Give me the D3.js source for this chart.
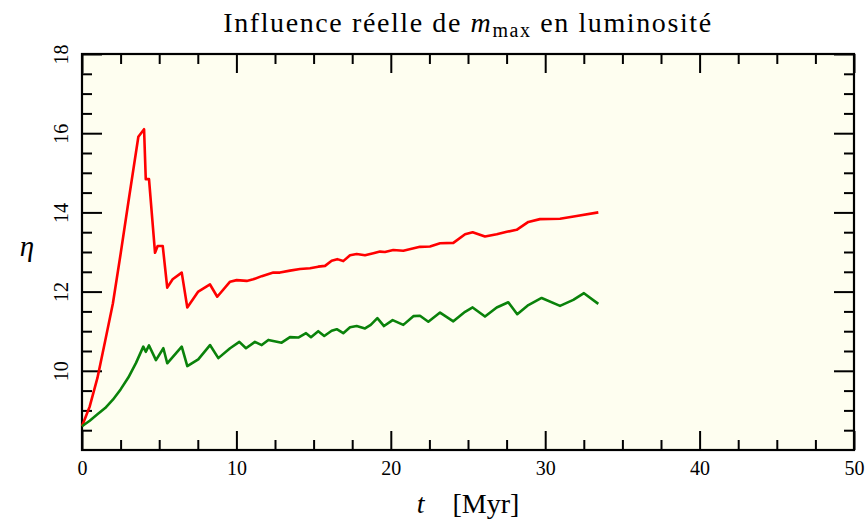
<!DOCTYPE html>
<html>
<head>
<meta charset="utf-8">
<script src="https://cdn.jsdelivr.net/npm/d3@7"></script>
<style>
  body { margin: 0; background: #fff; }
  svg { display: block; font-family: "Liberation Serif", serif; }
  .axis path { display: none; }
  .axis line { stroke: #000; stroke-width: 2; }
  .axis text { font-family: "Liberation Serif", serif; font-size: 20px; fill: #000; }
</style>
</head>
<body>
<div id="chart"></div>
<script>
// time [Myr] and eta for the two runs
const redT = [0, 0.5, 1.0, 1.5, 2.0, 2.5, 3.0, 3.65, 4.02, 4.13, 4.34, 4.73, 4.90, 5.23, 5.52, 5.87, 6.46, 6.82, 7.53, 8.29,
  8.76, 9.59, 10.02, 10.67, 11.09, 11.64, 12.39, 12.82, 13.47, 14.12, 14.77, 15.30, 15.74, 16.17, 16.53, 16.92, 17.36, 17.79, 18.33, 18.87,
  19.30, 19.62, 20.16, 20.81, 21.89, 22.54, 23.19, 24.05, 24.81, 25.30, 26.10, 26.86, 27.51, 28.15, 28.91, 29.66, 30.96, 32.04, 33.44];
const redEta = [8.6, 9.1, 9.82, 10.75, 11.7, 12.95, 14.25, 15.91, 16.10, 14.84, 14.84, 12.98, 13.15, 13.15, 12.10, 12.31, 12.48, 11.60, 12.0, 12.18,
  11.87, 12.25, 12.29, 12.27, 12.31, 12.39, 12.48, 12.48, 12.53, 12.57, 12.59, 12.63, 12.65, 12.78, 12.82, 12.77, 12.92, 12.95, 12.92, 12.97,
  13.01, 13.0, 13.05, 13.03, 13.13, 13.14, 13.22, 13.23, 13.45, 13.50, 13.39, 13.45, 13.51, 13.56, 13.76, 13.83, 13.84, 13.91, 14.0];

const greenT = [0, 0.5, 1.0, 1.5, 2.0, 2.5, 3.0, 3.5, 3.97, 4.13, 4.34, 4.79, 5.27, 5.52, 6.46, 6.82, 7.53, 8.29,
  8.83, 9.59, 10.19, 10.62, 11.2, 11.64, 12.07, 12.93, 13.47, 14.01, 14.51, 14.83, 15.30, 15.69, 16.17, 16.5, 16.92,
  17.36, 17.79, 18.33, 18.70, 19.13, 19.56, 20.12, 20.81, 21.46, 21.89, 22.43, 23.19, 24.05, 24.81, 25.30, 26.10, 26.86,
  27.61, 28.19, 28.91, 29.77, 30.96, 31.82, 32.51, 33.44];
const greenEta = [8.6, 8.74, 8.9, 9.06, 9.27, 9.53, 9.83, 10.2, 10.61, 10.48, 10.64, 10.27, 10.57, 10.19, 10.61, 10.12, 10.29, 10.65,
  10.32, 10.57, 10.73, 10.57, 10.73, 10.65, 10.78, 10.71, 10.85, 10.84, 10.95, 10.85, 11.0, 10.88, 11.01, 11.05, 10.95,
  11.10, 11.13, 11.07, 11.16, 11.33, 11.13, 11.28, 11.16, 11.38, 11.39, 11.24, 11.47, 11.25, 11.49, 11.60, 11.37, 11.60,
  11.73, 11.43, 11.66, 11.84, 11.64, 11.79, 11.96, 11.69];

const xMajor = [0, 10, 20, 30, 40, 50];
const xMinor = d3.range(0, 50.01, 2.5).filter(v => v % 10 !== 0);
const yMajor = [10, 12, 14, 16, 18];
const yMinor = d3.range(8, 18.01, 0.5).filter(v => v % 2 !== 0);

const width = 865, height = 519;
const margin = { top: 54, right: 11, bottom: 69, left: 82 };

const svg = d3.select("#chart").append("svg")
  .attr("width", width)
  .attr("height", height);

const x = d3.scaleLinear().domain([0, 50]).range([margin.left, width - margin.right]);
const y = d3.scaleLinear().domain([8, 18]).range([height - margin.bottom, margin.top]);
const x0 = x.range()[0], x1 = x.range()[1], y0 = y.range()[0], y1 = y.range()[1];

// plot background
svg.append("rect")
  .attr("x", x0).attr("y", y1)
  .attr("width", x1 - x0).attr("height", y0 - y1)
  .attr("fill", "#fefef0");

// ticks, all pointing inward
function addAxis(axis, tx, ty) {
  return svg.append("g")
    .attr("class", "axis")
    .attr("transform", "translate(" + tx + "," + ty + ")")
    .call(axis)
    .attr("font-family", "Liberation Serif, serif");
}
addAxis(d3.axisBottom(x).tickValues(xMinor).tickSize(-10).tickFormat(""), 0, y0);
addAxis(d3.axisTop(x).tickValues(xMinor).tickSize(-10).tickFormat(""), 0, y1);
addAxis(d3.axisTop(x).tickValues(xMajor).tickSize(-19).tickFormat(""), 0, y1);
const xAx = addAxis(d3.axisBottom(x).tickValues(xMajor).tickSize(-19), 0, y0);
xAx.selectAll("text").attr("y", 25).attr("dy", 0);

addAxis(d3.axisLeft(y).tickValues(yMinor).tickSize(-10).tickFormat(""), x0, 0);
addAxis(d3.axisRight(y).tickValues(yMinor).tickSize(-10).tickFormat(""), x1, 0);
addAxis(d3.axisRight(y).tickValues(yMajor).tickSize(-20).tickFormat(""), x1, 0);
const yAx = addAxis(d3.axisLeft(y).tickValues(yMajor).tickSize(-20), x0, 0);
yAx.selectAll("text")
  .attr("transform", "rotate(-90)")
  .attr("x", 0).attr("y", -14).attr("dy", 0)
  .attr("text-anchor", "middle");

// frame
svg.append("rect")
  .attr("x", x0).attr("y", y1)
  .attr("width", x1 - x0).attr("height", y0 - y1)
  .attr("fill", "none").attr("stroke", "#000").attr("stroke-width", 2.2);

// curves
const line = d3.line().x(d => x(d[0])).y(d => y(d[1]));
[[redT, redEta, "#ff0000"], [greenT, greenEta, "#0a820a"]].forEach(([t, eta, color]) => {
  svg.append("path")
    .datum(d3.zip(t, eta))
    .attr("fill", "none")
    .attr("stroke", color)
    .attr("stroke-width", 2.6)
    .attr("stroke-linejoin", "round")
    .attr("d", line);
});

// title
const title = svg.append("text")
  .attr("x", (x0 + x1) / 2).attr("y", 32)
  .attr("text-anchor", "middle")
  .style("font-size", "28px")
  .style("letter-spacing", "1.6px");
title.append("tspan").text("Influence réelle de ");
title.append("tspan").style("font-style", "italic").text("m");
title.append("tspan").attr("dy", 5).style("font-size", "20px").text("max");
title.append("tspan").attr("dy", -5).text(" en luminosité");

// axis labels
const xl = svg.append("text")
  .attr("x", (x0 + x1) / 2).attr("y", 513)
  .attr("text-anchor", "middle")
  .style("font-size", "28px");
xl.append("tspan").style("font-style", "italic").text("t");
xl.append("tspan").text("\u00a0\u00a0\u00a0\u00a0[Myr]");

svg.append("text")
  .attr("x", 27).attr("y", (y0 + y1) / 2 + 4)
  .attr("text-anchor", "middle")
  .style("font-size", "29px")
  .style("font-style", "italic")
  .text("η");
</script>
</body>
</html>
